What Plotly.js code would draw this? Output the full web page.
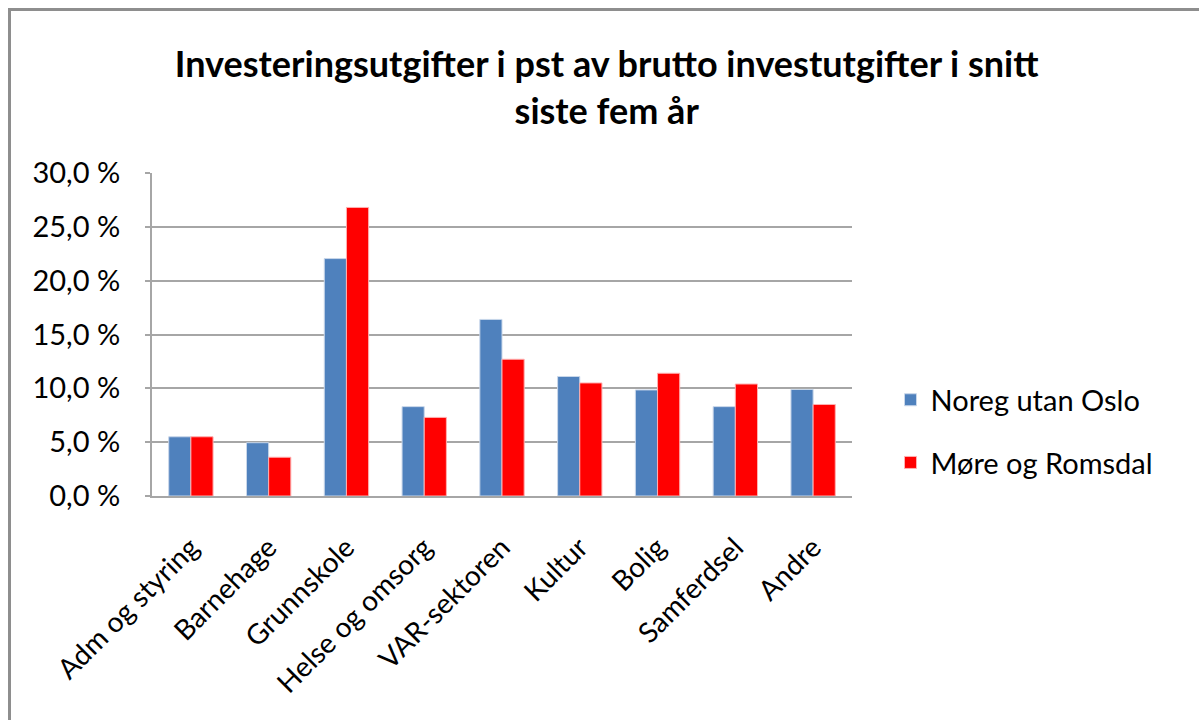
<!DOCTYPE html>
<html><head><meta charset="utf-8">
<script src="https://cdn.plot.ly/plotly-3.0.1.min.js"></script>
<style>
html,body{margin:0;padding:0;overflow:hidden;background:#fff;}
#chart{position:absolute;left:0;top:0;width:1199px;height:720px;}
#frame{position:absolute;left:8px;top:8px;width:1300px;height:900px;border:3px solid #8e8e8e;pointer-events:none;}
</style></head>
<body>
<div id="chart"></div>
<div id="frame"></div>
<script>
const categories = ["Adm og styring","Barnehage","Grunnskole","Helse og omsorg","VAR-sektoren","Kultur","Bolig","Samferdsel","Andre"];
const seriesNames = ["Noreg utan Oslo","Møre og Romsdal"];
const noregUtanOslo = [5.5, 4.95, 22.05, 8.3, 16.4, 11.1, 9.85, 8.3, 9.9];
const moreOgRomsdal = [5.5, 3.6, 26.8, 7.3, 12.7, 10.5, 11.4, 10.4, 8.5];
const titleText = "Investeringsutgifter i pst av brutto investutgifter i snitt<br>siste fem år";

const font = "Lato, 'Open Sans', sans-serif";
const traces = [
  {type:'bar', name:seriesNames[0], x:categories, y:noregUtanOslo, legendgroup:'a',
   marker:{color:'#4F81BD', line:{color:'#c9d7ea', width:1}}},
  {type:'bar', name:seriesNames[1], x:categories, y:moreOgRomsdal, legendgroup:'b',
   marker:{color:'#FF0000', line:{color:'#ffb0b0', width:1}}}
];
const layout = {
  width:1199, height:720,
  margin:{l:152, r:347, t:173, b:224},
  paper_bgcolor:'#fff', plot_bgcolor:'#fff',
  font:{family:font, color:'#000'},
  separators:',.',
  title:{text:'<b>'+titleText+'</b>', font:{family:font, size:36, color:'#000'},
         x:0.506, xref:'container', xanchor:'center', y:0.893, yref:'container', yanchor:'top'},
  barmode:'group', bargap:0.43, bargroupgap:0,
  xaxis:{type:'category', tickangle:-45, tickfont:{size:28, family:font}, ticklabelstandoff:22,
         showline:true, linecolor:'#a6a6a6', linewidth:2, showgrid:false, ticks:'', automargin:false},
  yaxis:{range:[0,30], dtick:5, tickformat:'.1f', ticksuffix:' %', tickfont:{size:29, family:font},
         ticklabelstandoff:19,
         showgrid:true, gridcolor:'#a6a6a6', gridwidth:2, showline:true, linecolor:'#a6a6a6', linewidth:2,
         ticks:'outside', ticklen:5, tickcolor:'#a6a6a6', tickwidth:2, zeroline:false, automargin:false},
  legend:{x:1.055, xanchor:'left', y:0.2, yanchor:'middle', font:{size:29, family:font},
          traceorder:'grouped', tracegroupgap:22, bgcolor:'rgba(0,0,0,0)'},
  showlegend:true
};
Plotly.newPlot('chart', traces, layout, {displayModeBar:false, staticPlot:true});
</script>
</body></html>
